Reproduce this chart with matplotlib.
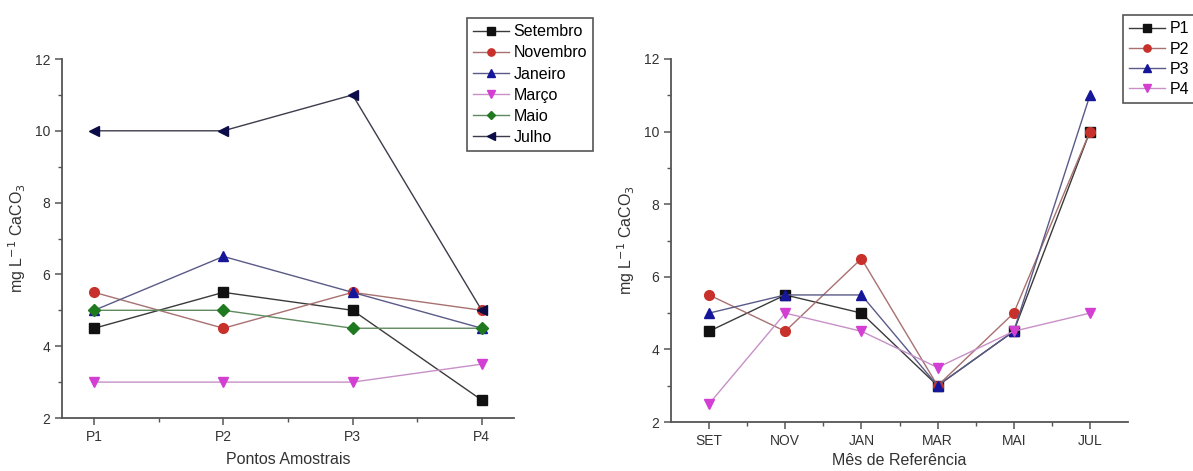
import matplotlib
matplotlib.use('Agg')
from matplotlib import pyplot as plt
from matplotlib.ticker import MultipleLocator, FixedLocator

plt.rcParams['font.family'] = ['Liberation Sans', 'DejaVu Sans']

# left panel: values per month along the sampling points
points = ['P1', 'P2', 'P3', 'P4']
months = ['Setembro', 'Novembro', 'Janeiro', 'Março', 'Maio', 'Julho']
setembro = [4.5, 5.5, 5.0, 2.5]
novembro = [5.5, 4.5, 5.5, 5.0]
janeiro = [5.0, 6.5, 5.5, 4.5]
marco = [3.0, 3.0, 3.0, 3.5]
maio = [5.0, 5.0, 4.5, 4.5]
julho = [10.0, 10.0, 11.0, 5.0]

# right panel: values per point along the months
monthTicks = ['SET', 'NOV', 'JAN', 'MAR', 'MAI', 'JUL']
p1 = [4.5, 5.5, 5.0, 3.0, 4.5, 10.0]
p2 = [5.5, 4.5, 6.5, 3.0, 5.0, 10.0]
p3 = [5.0, 5.5, 5.5, 3.0, 4.5, 11.0]
p4 = [2.5, 5.0, 4.5, 3.5, 4.5, 5.0]

# (marker colour, line colour, marker)
leftStyles = [('#111111', '#3a3a3a', 's'),
              ('#c8312b', '#a87070', 'o'),
              ('#16169a', '#5a5a88', '^'),
              ('#d23fd2', '#c790c7', 'v'),
              ('#1f7a1f', '#5f8a5f', 'D'),
              ('#0c0c48', '#3c3c4c', '<')]
rightStyles = [('#111111', '#3a3a3a', 's'),
               ('#c8312b', '#a87070', 'o'),
               ('#16169a', '#5a5a88', '^'),
               ('#d23fd2', '#c790c7', 'v')]

axisColour = '#555555'
textColour = '#333333'


def styleAxes(ax):
  for side in ('top', 'right'):
    ax.spines[side].set_visible(False)
  for side in ('left', 'bottom'):
    ax.spines[side].set_color(axisColour)
    ax.spines[side].set_linewidth(1.3)
  ax.set_ylim(2, 12)
  ax.yaxis.set_major_locator(MultipleLocator(2))
  ax.yaxis.set_minor_locator(MultipleLocator(1))
  ax.tick_params(which='both', direction='out', colors=axisColour, labelcolor=textColour, labelsize=10)
  ax.tick_params(which='major', length=5, width=1.1)
  ax.tick_params(which='minor', length=3, width=1.0)
  ax.set_ylabel('mg L$^{-1}$ CaCO$_3$', fontsize=11.5, color=textColour, labelpad=5)


def plotSeries(ax, xs, series, names, styles):
  for values, name, (mc, lc, m) in zip(series, names, styles):
    ms = 6 if m == 'D' else 7
    ax.plot(xs, values, color=lc, lw=1.0, marker=m, markersize=ms,
            markerfacecolor=mc, markeredgecolor=mc, label=name)


def addLegend(ax, x, y, spacing):
  leg = fig.legend(*ax.get_legend_handles_labels(), loc='upper left',
                   bbox_to_anchor=(x / 1193, 1 - y / 471), borderaxespad=0,
                   fontsize=11.5, handlelength=2.2, handletextpad=0.3,
                   labelspacing=spacing, borderpad=0.4, markerscale=0.75,
                   fancybox=False, framealpha=1)
  leg.get_frame().set_edgecolor(axisColour)
  leg.get_frame().set_linewidth(1.2)
  return leg


fig = plt.figure(figsize=(11.93, 4.71), dpi=100)

# left panel
axL = fig.add_axes([62 / 1193, 1 - 418 / 471, 452 / 1193, 359 / 471])
xL = list(range(1, len(points) + 1))
plotSeries(axL, xL, [setembro, novembro, janeiro, marco, maio, julho], months, leftStyles)
styleAxes(axL)
axL.set_xlim(0.75, 4.25)
axL.set_xticks(xL)
axL.set_xticklabels(points)
axL.xaxis.set_minor_locator(FixedLocator([1.5, 2.5, 3.5]))
axL.set_xlabel('Pontos Amostrais', fontsize=11.5, color=textColour, labelpad=6)
addLegend(axL, 467, 18, 0.38)

# right panel
axR = fig.add_axes([671 / 1193, 1 - 422 / 471, 457 / 1193, 363 / 471])
xR = list(range(1, len(monthTicks) + 1))
plotSeries(axR, xR, [p1, p2, p3, p4], points, rightStyles)
styleAxes(axR)
axR.set_xlim(0.5, 6.5)
axR.set_xticks(xR)
axR.set_xticklabels(monthTicks)
axR.xaxis.set_minor_locator(FixedLocator([1.5, 2.5, 3.5, 4.5, 5.5]))
axR.set_xlabel('Mês de Referência', fontsize=11.5, color=textColour, labelpad=4)
addLegend(axR, 1123, 15, 0.32)

fig.savefig('out.png', dpi=100)
